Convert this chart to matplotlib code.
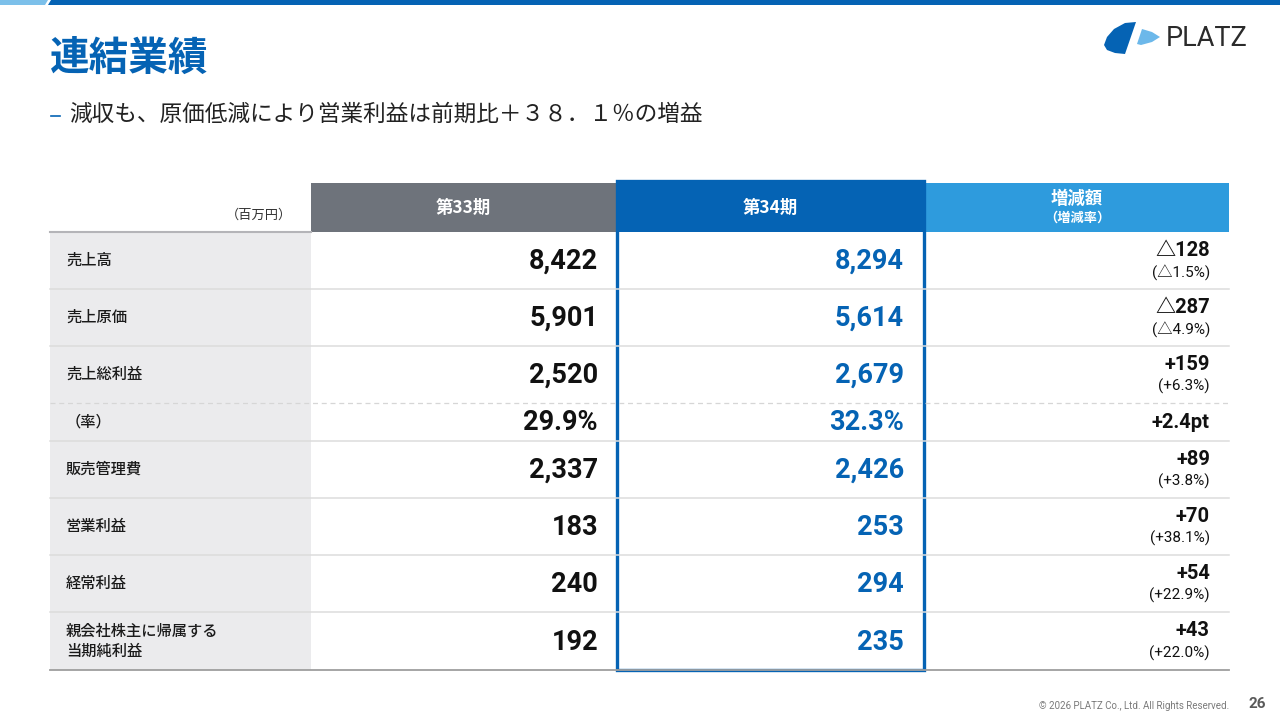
import matplotlib.pyplot as plt
from matplotlib.patches import Rectangle, Polygon

plt.rcParams['font.family'] = ['Noto Sans CJK JP', 'DejaVu Sans']

# table data (百万円)
items = ["売上高", "売上原価", "売上総利益", "（率）", "販売管理費",
         "営業利益", "経常利益", "親会社株主に帰属する\n当期純利益"]
fy33 = [8422, 5901, 2520, 29.9, 2337, 183, 240, 192]
fy34 = [8294, 5614, 2679, 32.3, 2426, 253, 294, 235]
diff = [-128, -287, 159, 2.4, 89, 70, 54, 43]
diff_rate = [-1.5, -4.9, 6.3, None, 3.8, 38.1, 22.9, 22.0]
pct_row = 3

headers = ["第33期", "第34期", "増減額"]

DARK = '#0563b4'
LIGHT = '#2e9bdd'
GREY_HEAD = '#6e737b'
LABEL_BG = '#ebebed'
NUM_FONT = ['Roboto', 'Noto Sans CJK JP']


def fmt(v, pct=False):
    return f"{v}%" if pct else f"{v:,}"


def fmt_diff(v, pct=False):
    s = "△" if v < 0 else "+"
    body = f"{abs(v)}pt" if pct else f"{abs(v):,}"
    return s + body


fig = plt.figure(figsize=(12.8, 7.2), dpi=100)
ax = fig.add_axes([0, 0, 1, 1])
ax.set_xlim(0, 1280)
ax.set_ylim(720, 0)
ax.axis('off')

# top bar
ax.add_patch(Polygon([(0, 0), (48, 0), (45, 5), (0, 5)], color='#7cc0ea', lw=0))
ax.add_patch(Polygon([(51, 0), (1280, 0), (1280, 5), (48, 5)], color=DARK, lw=0))

# title
ax.text(50, 58, "連結業績", fontsize=28.5, fontweight='bold', color=DARK, va='center')
ax.plot([51, 60], [116, 116], color=DARK, lw=1.2)
ax.text(69, 114, "減収も、原価低減により営業利益は前期比＋３８．１％の増益",
        fontsize=16.3, color='#222222', va='center')

# logo
ax.add_patch(Polygon([(1136, 22), (1125, 54), (1115, 53), (1107, 50), (1104, 45),
                      (1107, 37), (1114, 29), (1125, 23)], color=DARK, lw=0))
ax.add_patch(Polygon([(1142, 29), (1152, 32), (1160, 37), (1152, 42), (1141, 45),
                      (1137, 44)], color='#6cb8ea', lw=0))
ax.text(1166, 39, "PLATZ", fontsize=19.5, color='#2b2b2b', va='center',
        family=['Roboto', 'DejaVu Sans'])

# table geometry
x_lab, x33, x34, xd, x_end = 50, 311, 616, 925, 1229
head_top, head_bot = 183, 232
row_h = [57, 57, 57, 38, 57, 57, 57, 58]
edges = [head_bot]
for h in row_h:
    edges.append(edges[-1] + h)

# header
ax.add_patch(Rectangle((x33, head_top), x34 - x33, head_bot - head_top, color=GREY_HEAD, lw=0))
ax.add_patch(Rectangle((x34, head_top - 2), xd - x34, head_bot - head_top + 2, color=DARK, lw=0))
ax.add_patch(Rectangle((xd, head_top), x_end - xd, head_bot - head_top, color=LIGHT, lw=0))
ax.text((x33 + x34) / 2, 208, headers[0], color='white', fontsize=12.5, fontweight='bold',
        ha='center', va='center')
ax.text((x34 + xd) / 2, 208, headers[1], color='white', fontsize=12.5, fontweight='bold',
        ha='center', va='center')
ax.text((xd + x_end) / 2, 199, headers[2], color='white', fontsize=12.5, fontweight='bold',
        ha='center', va='center')
ax.text((xd + x_end) / 2, 218, "（増減率）", color='white', fontsize=9.5, fontweight='bold',
        ha='center', va='center')
ax.text(292, 215, "（百万円）", fontsize=9.5, color='#333333', ha='right', va='center')

# label column background
ax.add_patch(Rectangle((x_lab, head_bot), x33 - x_lab, edges[-1] - head_bot, color=LABEL_BG, lw=0))

# row lines
ax.plot([x_lab, x33], [head_bot, head_bot], color='#b4b4b8', lw=1.5)
for i, y in enumerate(edges[1:-1]):
    if i + 1 == pct_row:
        ax.plot([x_lab, x_end], [y, y], color='#d6d6d6', lw=0.9, ls=(0, (4, 3)))
    else:
        ax.plot([x_lab, x_end], [y, y], color='#dcdcdc', lw=1.1)
ax.plot([x_lab, x_end], [edges[-1], edges[-1]], color='#9e9e9e', lw=1.3)

# rows
for i, name in enumerate(items):
    yc = (edges[i] + edges[i + 1]) / 2
    pct = i == pct_row
    ax.text(66, yc, name, fontsize=11, fontweight='medium', color='#1a1a1a',
            va='center', linespacing=1.25)
    ax.text(598, yc + 1, fmt(fy33[i], pct), fontsize=19.5, fontweight='bold',
            color='#111111', ha='right', va='center', family=NUM_FONT)
    ax.text(904, yc + 1, fmt(fy34[i], pct), fontsize=19.5, fontweight='bold',
            color=DARK, ha='right', va='center', family=NUM_FONT)
    if diff_rate[i] is None:
        ax.text(1210, yc, fmt_diff(diff[i], pct), fontsize=14.5, fontweight='bold',
                color='#111111', ha='right', va='center', family=NUM_FONT)
    else:
        ax.text(1210, yc - 10, fmt_diff(diff[i]), fontsize=14.5, fontweight='bold',
                color='#111111', ha='right', va='center', family=NUM_FONT)
        r = diff_rate[i]
        rs = ("(△" if r < 0 else "(+") + f"{abs(r)}%)"
        ax.text(1210, yc + 12, rs, fontsize=11, color='#111111',
                ha='right', va='center', family=NUM_FONT)

# highlight frame around 第34期
ax.add_patch(Rectangle((x34 + 1, head_top - 2), xd - x34 - 2, edges[-1] - head_top + 2,
                       fill=False, edgecolor=DARK, lw=2.4))

# footer
ax.text(1229, 706, "© 2026 PLATZ Co., Ltd. All Rights Reserved.", fontsize=7,
        color='#7a7a7a', ha='right', va='center', family=['Roboto', 'DejaVu Sans'])
ax.text(1266, 704, "26", fontsize=11, fontweight='bold', color='#5a5a5a',
        ha='right', va='center', family=['Roboto', 'DejaVu Sans'])

fig.savefig('out.png', dpi=100)
